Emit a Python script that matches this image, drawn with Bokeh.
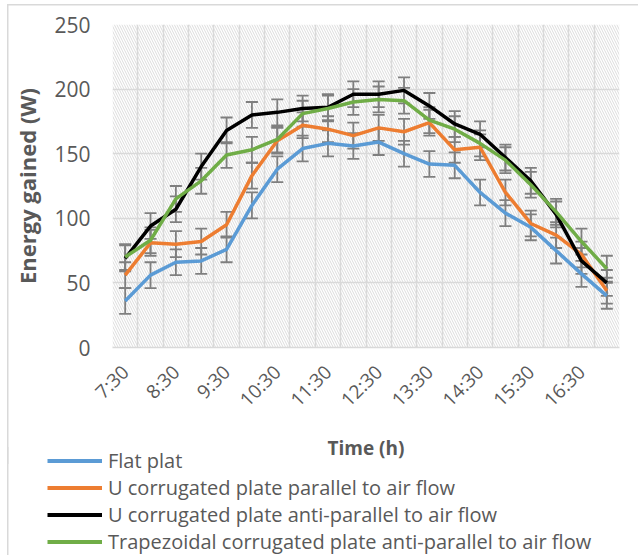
import math
import numpy as np
from bokeh.plotting import figure
from bokeh.layouts import column
from bokeh.models import (Range1d, FixedTicker, Legend, LegendItem, Whisker, TeeHead,
                          ColumnDataSource, BoxAnnotation)
from bokeh.embed import file_html
from bokeh.resources import INLINE

TIMES = ["7:30", "8:00", "8:30", "9:00", "9:30", "10:00", "10:30", "11:00", "11:30", "12:00",
         "12:30", "13:00", "13:30", "14:00", "14:30", "15:00", "15:30", "16:00", "16:30", "17:00"]

flat_plat = [36, 56, 66, 67, 76, 110, 138, 154, 158, 156, 159, 150, 142, 141, 120, 104, 93, 75, 57, 40]
u_parallel = [56, 81, 80, 82, 95, 133, 160, 172, 169, 164, 170, 167, 174, 153, 155, 120, 96, 87, 72, 44]
u_anti_parallel = [69, 94, 107, 140, 168, 180, 182, 185, 186, 196, 196, 199, 187, 173, 165, 147, 129, 103, 67, 50]
trapezoidal = [70, 83, 115, 129, 149, 153, 161, 181, 185, 190, 192, 191, 176, 169, 158, 145, 126, 105, 82, 61]

ERROR = 10  # fixed error bar value (W)

SERIES_NAMES = ["Flat plat",
                "U corrugated plate parallel to air flow",
                "U corrugated plate anti-parallel to air flow",
                "Trapezoidal corrugated plate anti-parallel to air flow"]
SERIES_VALUES = [flat_plat, u_parallel, u_anti_parallel, trapezoidal]
COLORS = ["#5B9BD5", "#ED7D31", "#000000", "#70AD47"]

Y_TICKS = [0, 50, 100, 150, 200, 250]

FONT = "Open Sans"
TEXT_COLOR = "#595959"
GRID_COLOR = "#d9d9d9"

p = figure(width=638, height=464, output_backend="svg", toolbar_location=None,
           x_range=Range1d(-0.5, len(TIMES) - 0.5), y_range=Range1d(0, 250),
           min_border_left=112, min_border_right=19, min_border_top=24, min_border_bottom=117)
p.frame_align = False
p.outline_line_color = None
p.background_fill_color = "white"
p.border_fill_alpha = 0
p.styles = {"box-shadow": "inset 7px 4px 0 0 white, inset 8.5px 5.5px 0 0 #d9d9d9"}

# hatched plot area
bg = BoxAnnotation(fill_color="white", fill_alpha=1, line_color=None,
                   hatch_pattern="\\", hatch_color="#dcdcdc", hatch_scale=5, hatch_weight=1.0,
                   level="image")
p.add_layout(bg)

# grids
p.xgrid.ticker = FixedTicker(ticks=[i - 0.5 for i in range(len(TIMES) + 1)])
p.xgrid.grid_line_color = GRID_COLOR
p.xgrid.grid_line_width = 1.5
p.ygrid.ticker = FixedTicker(ticks=Y_TICKS)
p.ygrid.grid_line_color = GRID_COLOR
p.ygrid.grid_line_width = 1.5

# axes
x_idx = list(range(len(TIMES)))
p.xaxis.ticker = FixedTicker(ticks=x_idx[::2])
p.xaxis.major_label_overrides = {i: TIMES[i] for i in x_idx[::2]}
p.xaxis.major_label_orientation = math.pi / 4
p.xaxis.axis_line_color = GRID_COLOR
p.xaxis.axis_line_width = 1.5
p.xaxis.major_tick_line_color = None
p.xaxis.minor_tick_line_color = None
p.xaxis.major_tick_out = 0
p.xaxis.major_label_standoff = 21
p.xaxis.axis_label = "Time (h)"
p.xaxis.axis_label_standoff = 11

p.yaxis.ticker = FixedTicker(ticks=Y_TICKS)
p.yaxis.axis_line_color = None
p.yaxis.major_tick_line_color = None
p.yaxis.minor_tick_line_color = None
p.yaxis.major_tick_out = 0
p.yaxis.major_label_standoff = 22
p.yaxis.axis_label = "Energy gained (W)"
p.yaxis.axis_label_standoff = 9

for ax in (p.xaxis[0], p.yaxis[0]):
    ax.major_label_text_font = FONT
    ax.major_label_text_color = TEXT_COLOR
    ax.axis_label_text_font = FONT
    ax.axis_label_text_font_style = "bold"
    ax.axis_label_text_color = TEXT_COLOR
p.yaxis.major_label_text_font_size = "21px"
p.xaxis.major_label_text_font_size = "19px"
p.yaxis.axis_label_text_font_size = "22px"
p.xaxis.axis_label_text_font_size = "19px"

for name, vals, col in zip(SERIES_NAMES, SERIES_VALUES, COLORS):
    v = np.array(vals, dtype=float)
    src = ColumnDataSource(dict(x=x_idx, y=v, lo=v - ERROR, hi=v + ERROR))
    w = Whisker(base="x", upper="hi", lower="lo", source=src,
                line_color="#7f7f7f", line_width=1.8,
                upper_head=TeeHead(size=12, line_color="#7f7f7f", line_width=1.8),
                lower_head=TeeHead(size=12, line_color="#7f7f7f", line_width=1.8))
    p.add_layout(w)
    p.line("x", "y", source=src, line_color=col, line_width=3.5)

# legend panel (transparent figure overlapping the bottom of the chart)
lg = figure(width=638, height=108, output_backend="svg", toolbar_location=None,
            x_axis_location=None, y_axis_location=None,
            x_range=Range1d(0, 1), y_range=Range1d(0, 1),
            min_border_left=0, min_border_right=0, min_border_top=0, min_border_bottom=0)
lg.frame_align = False
lg.outline_line_color = None
lg.background_fill_alpha = 0
lg.border_fill_alpha = 0
lg.xgrid.visible = False
lg.ygrid.visible = False
lg.styles = {"margin-top": "-17px",
             "box-shadow": "inset 7px 0 0 0 white, inset 8.5px 0 0 0 #d9d9d9"}
items = []
for name, col in zip(SERIES_NAMES, COLORS):
    r = lg.line(x=[float("nan")], y=[float("nan")], line_color=col, line_width=4)
    items.append(LegendItem(label=name, renderers=[r]))
legend = Legend(items=items, location=(47, 0), orientation="vertical",
                padding=0, margin=0, spacing=0,
                glyph_width=55, glyph_height=27, label_height=27, label_standoff=6,
                label_text_font=FONT, label_text_font_size="20px", label_text_color=TEXT_COLOR,
                border_line_color=None, background_fill_alpha=0)
lg.add_layout(legend)

layout = column(p, lg, spacing=0)
open("out.html", "w").write(file_html(layout, INLINE))
